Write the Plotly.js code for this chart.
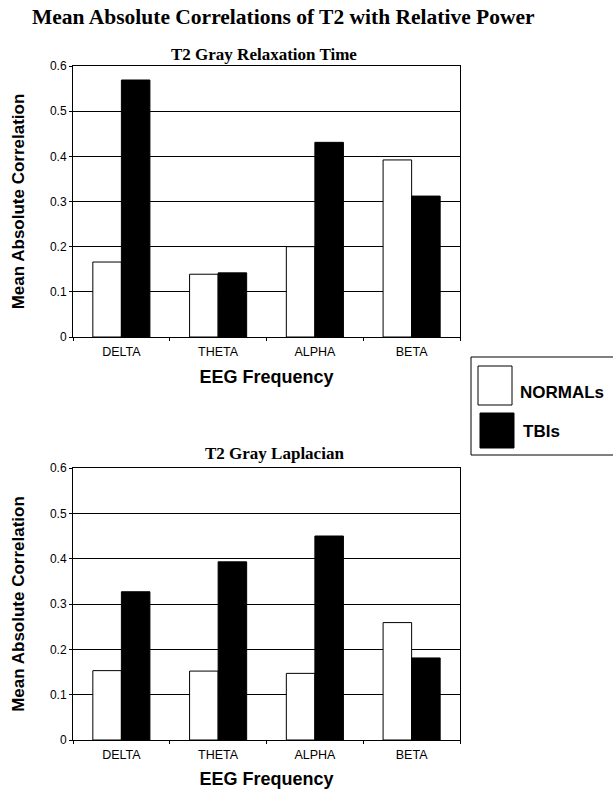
<!DOCTYPE html>
<html><head><meta charset="utf-8">
<script src="https://cdn.plot.ly/plotly-3.0.1.min.js"></script>
<style>html,body{margin:0;padding:0;background:#fff}#chart{width:613px;height:789px}</style>
</head><body><div id="chart"></div>
<script>
const categories = ["DELTA", "THETA", "ALPHA", "BETA"];
const relaxNormals = [0.166, 0.139, 0.200, 0.392];
const relaxTBIs = [0.569, 0.142, 0.431, 0.312];
const laplNormals = [0.153, 0.152, 0.147, 0.259];
const laplTBIs = [0.327, 0.393, 0.450, 0.181];
const seriesNames = ["NORMALs", "TBIs"];
const yTicks = [0, 0.1, 0.2, 0.3, 0.4, 0.5, 0.6];
const yTickText = ["0", "0.1", "0.2", "0.3", "0.4", "0.5", "0.6"];

const W = 613, H = 789;
const px = v => v / W, py = v => 1 - v / H;

const whiteBar = {color: "#ffffff", line: {color: "#000000", width: 1}};
const blackBar = {color: "#000000", line: {color: "#000000", width: 1}};

const traces = [
  {type: "bar", x: categories, y: relaxNormals, name: seriesNames[0], marker: whiteBar, xaxis: "x", yaxis: "y", showlegend: false},
  {type: "bar", x: categories, y: relaxTBIs, name: seriesNames[1], marker: blackBar, xaxis: "x", yaxis: "y", showlegend: false},
  {type: "bar", x: categories, y: laplNormals, name: seriesNames[0], marker: whiteBar, xaxis: "x2", yaxis: "y2", showlegend: false},
  {type: "bar", x: categories, y: laplTBIs, name: seriesNames[1], marker: blackBar, xaxis: "x2", yaxis: "y2", showlegend: false}
];

const sans = "Liberation Sans, Arial, Helvetica, sans-serif";
const xTickFont = {family: sans, size: 12.5, color: "#000"};
const yTickFont = {family: sans, size: 12, color: "#000"};
const axTitleFont = {family: sans, size: 17, color: "#000", weight: "bold"};

function xax(anchor) {
  return {domain: [px(73), px(460)], anchor: anchor, showline: true, mirror: true, linecolor: "#000", linewidth: 1,
    ticks: "outside", ticklen: 3, tickcolor: "#000", tickson: "boundaries", ticklabelstandoff: 3,
    tickfont: xTickFont, showgrid: false, fixedrange: true,
    title: {text: "EEG Frequency", font: Object.assign({}, axTitleFont, {size: 18}), standoff: 12}};
}
function yax(d0, d1, anchor) {
  return {domain: [py(d1), py(d0)], anchor: anchor, range: [0, 0.6], tickvals: yTicks, ticktext: yTickText,
    showline: true, mirror: true, linecolor: "#000", linewidth: 1, ticks: "outside", ticklen: 3, tickcolor: "#000",
    showgrid: true, gridcolor: "#000", gridwidth: 1, zeroline: false, tickfont: yTickFont,
    title: {text: "Mean Absolute Correlation", font: axTitleFont, standoff: 20}};
}

const serif = {family: "Liberation Serif, Times New Roman, serif", color: "#000", weight: "bold"};
const legFont = {family: sans, size: 17, color: "#000", weight: "bold"};

const layout = {
  width: W, height: H,
  margin: {l: 0, r: 0, t: 0, b: 0},
  paper_bgcolor: "#fff", plot_bgcolor: "#fff",
  barmode: "group", bargap: 0.41, bargroupgap: 0,
  showlegend: false,
  xaxis: xax("y"), yaxis: yax(66, 337, "x"),
  xaxis2: xax("y2"), yaxis2: yax(468, 740, "x2"),
  annotations: [
    {text: "Mean Absolute Correlations of T2 with Relative Power", xref: "paper", yref: "paper", x: px(283), y: py(17), xanchor: "center", yanchor: "middle", showarrow: false, font: Object.assign({size: 21.5}, serif)},
    {text: "T2 Gray Relaxation Time", xref: "paper", yref: "paper", x: px(264), y: py(54), xanchor: "center", yanchor: "middle", showarrow: false, font: Object.assign({size: 17}, serif)},
    {text: "T2 Gray Laplacian", xref: "paper", yref: "paper", x: px(274), y: py(453), xanchor: "center", yanchor: "middle", showarrow: false, font: Object.assign({size: 17}, serif)},
    {text: seriesNames[0], xref: "paper", yref: "paper", x: px(518), y: py(393), xanchor: "left", yanchor: "middle", showarrow: false, font: legFont},
    {text: seriesNames[1], xref: "paper", yref: "paper", x: px(521), y: py(431), xanchor: "left", yanchor: "middle", showarrow: false, font: legFont}
  ],
  shapes: [
    {type: "rect", xref: "paper", yref: "paper", x0: px(471), x1: px(625), y0: py(455), y1: py(357), line: {color: "#000", width: 1}, fillcolor: "rgba(0,0,0,0)"},
    {type: "rect", xref: "paper", yref: "paper", x0: px(478), x1: px(512), y0: py(405), y1: py(366), line: {color: "#000", width: 1}, fillcolor: "#fff"},
    {type: "rect", xref: "paper", yref: "paper", x0: px(480), x1: px(514), y0: py(448), y1: py(413), line: {color: "#000", width: 1}, fillcolor: "#000"}
  ]
};

Plotly.newPlot("chart", traces, layout, {staticPlot: true, displayModeBar: false});
</script></body></html>
